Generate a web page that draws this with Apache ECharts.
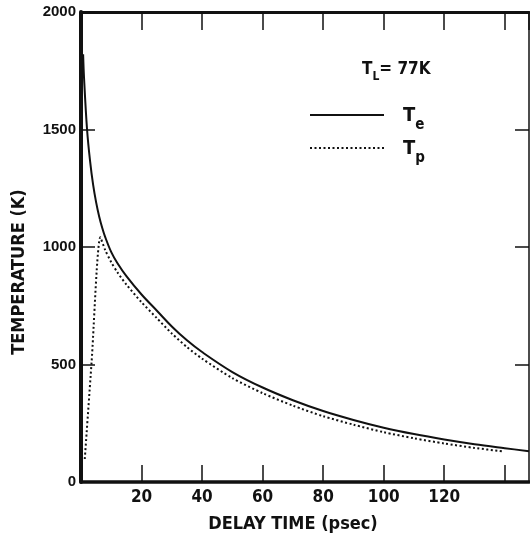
<!DOCTYPE html>
<html>
<head>
<meta charset="utf-8">
<script src="https://cdn.jsdelivr.net/npm/echarts@6/dist/echarts.min.js"></script>
<style>
  html, body { margin: 0; padding: 0; background: #fff; }
  #chart { width: 530px; height: 538px; }
</style>
</head>
<body>
<div id="chart"></div>
<script>
// delay time (psec) vs temperature (K)
const teTime = [0.7, 1, 2, 3, 4, 5, 6, 7, 8, 10, 12, 15, 20, 25, 30, 35, 40, 50, 60, 70, 80, 90, 100, 110, 120, 130, 140, 148];
const teTemp = [1820, 1720, 1500, 1365, 1265, 1190, 1130, 1082, 1042, 978, 932, 876, 798, 730, 662, 603, 553, 468, 402, 348, 302, 264, 231, 204, 181, 161, 144, 131];

const tpTime = [1.25, 3.5, 6.4, 8, 10, 12, 15, 20, 25, 30, 35, 40, 50, 60, 70, 80, 90, 100, 110, 120, 130, 139.5];
const tpTemp = [98, 510, 1041, 987, 935, 893, 840, 765, 698, 632, 574, 525, 442, 378, 325, 280, 244, 212, 186, 164, 145, 130];

const xTickLabels = ['20', '40', '60', '80', '100', '120'];
const yTickLabels = ['0', '500', '1000', '1500', '2000'];

const FONT = '"Liberation Sans Narrow", "DejaVu Sans Condensed", sans-serif';
const INK = '#111';

const myChart = echarts.init(document.getElementById('chart'));

const tickStyle = {lineStyle: {color: INK, width: 1.5}};

const option = {
    backgroundColor: '#fff',
    animation: false,
    grid: {left: 81, right: 1, top: 12, bottom: 56},
    xAxis: [
        {
            type: 'value', min: 0, max: 148, interval: 20, position: 'bottom',
            axisLine: {show: true, onZero: false, lineStyle: {color: INK, width: 3.5}},
            axisTick: Object.assign({show: true, inside: true, length: 17}, tickStyle),
            splitLine: {show: false},
            axisLabel: {
                margin: 7, color: INK, fontFamily: FONT, fontWeight: 'bold', fontSize: 17,
                showMaxLabel: false,
                formatter: function (v) { return xTickLabels.indexOf(String(v)) >= 0 ? String(v) : ''; }
            }
        },
        {
            type: 'value', min: 0, max: 148, interval: 20, position: 'top',
            axisLine: {show: true, onZero: false, lineStyle: {color: INK, width: 3}},
            axisTick: Object.assign({show: true, inside: true, length: 18}, tickStyle),
            splitLine: {show: false},
            axisLabel: {show: false}
        }
    ],
    yAxis: [
        {
            type: 'value', min: 0, max: 2000, interval: 500, position: 'left',
            axisLine: {show: true, onZero: false, lineStyle: {color: INK, width: 4}},
            axisTick: Object.assign({show: true, inside: true, length: 14}, tickStyle),
            splitLine: {show: false},
            axisLabel: {
                margin: 5, color: INK, fontFamily: 'Liberation Sans, Arial, sans-serif', fontWeight: 'bold', fontSize: 15,
                formatter: function (v) { return yTickLabels.indexOf(String(v)) >= 0 ? String(v) : ''; }
            }
        },
        {
            type: 'value', min: 0, max: 2000, interval: 500, position: 'right',
            axisLine: {show: true, onZero: false, lineStyle: {color: INK, width: 1.5}},
            axisTick: Object.assign({show: true, inside: true, length: 14}, tickStyle),
            splitLine: {show: false},
            axisLabel: {show: false}
        }
    ],
    legend: {
        orient: 'vertical',
        left: 309, top: 106, padding: 0,
        itemWidth: 74, itemHeight: 14, itemGap: 6,
        selectedMode: false,
        itemStyle: {opacity: 0},
        data: ['Te', 'Tp'],
        formatter: function (name) { return '{t|T}{s|' + name.slice(1) + '}'; },
        textStyle: {
            padding: [0, 0, 0, 14],
            rich: {
                t: {fontFamily: FONT, fontWeight: 'bold', fontSize: 20, color: INK, verticalAlign: 'bottom', lineHeight: 22},
                s: {fontFamily: FONT, fontWeight: 'bold', fontSize: 15, color: INK, verticalAlign: 'bottom', lineHeight: 22, padding: [0, 0, -7, 0]}
            }
        }
    },
    graphic: [
        {
            type: 'text', left: 362, top: 61,
            style: {
                rich: {
                    a: {fontFamily: FONT, fontWeight: 'bold', fontSize: 17, fill: INK, verticalAlign: 'bottom', lineHeight: 20},
                    b: {fontFamily: FONT, fontWeight: 'bold', fontSize: 12, fill: INK, verticalAlign: 'bottom', lineHeight: 20, padding: [0, 0, -5, 0]}
                },
                text: '{a|T}{b|L}{a|= 77K}'
            }
        },
        {
            type: 'text', x: 293, y: 524,
            style: {
                text: 'DELAY TIME (psec)', align: 'center', verticalAlign: 'middle',
                fontFamily: FONT, fontWeight: 'bold', fontSize: 18, fill: INK
            }
        },
        {
            type: 'text', x: 19, y: 272, rotation: Math.PI / 2,
            style: {
                text: 'TEMPERATURE (K)', align: 'center', verticalAlign: 'middle',
                fontFamily: FONT, fontWeight: 'bold', fontSize: 18, fill: INK
            }
        }
    ],
    series: [
        {
            name: 'Te', type: 'line', xAxisIndex: 0, yAxisIndex: 0,
            data: teTime.map((t, i) => [t, teTemp[i]]),
            smooth: 0.35, symbol: 'none',
            itemStyle: {color: INK},
            lineStyle: {color: INK, width: 2}
        },
        {
            name: 'Tp', type: 'line', xAxisIndex: 0, yAxisIndex: 0,
            data: tpTime.map((t, i) => [t, tpTemp[i]]),
            smooth: 0.25, symbol: 'none',
            itemStyle: {color: INK},
            lineStyle: {color: INK, width: 2, type: [2, 2.5]}
        }
    ]
};

myChart.setOption(option);
</script>
</body>
</html>
